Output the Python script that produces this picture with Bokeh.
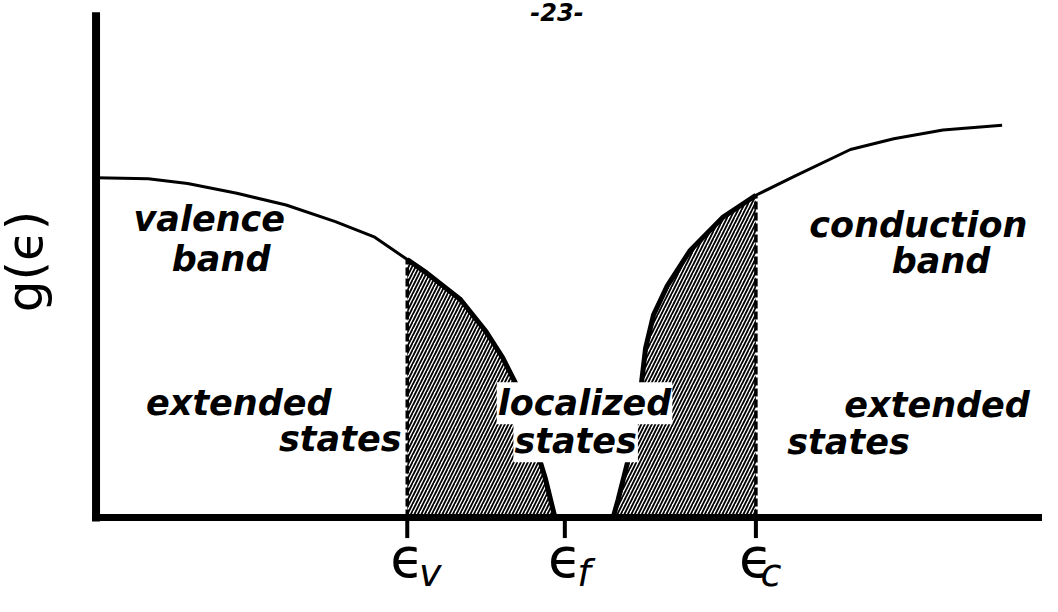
import numpy as np
from bokeh.plotting import figure
from bokeh.models import Range1d, ColumnDataSource
from bokeh.core.properties import value
from bokeh.embed import file_html
from bokeh.resources import INLINE

# ---- data (energy and g(e) in arbitrary units) ----
valence_e = [0.00, 0.53, 0.93, 1.43, 1.93, 2.43, 2.83, 3.16, 3.36, 3.70, 3.96, 4.13, 4.28, 4.46, 4.56, 4.66]
valence_g = [3.49, 3.48, 3.43, 3.33, 3.21, 3.04, 2.88, 2.65, 2.51, 2.24, 1.91, 1.64, 1.34, 0.74, 0.41, 0.00]
conduction_e = [5.25, 5.30, 5.40, 5.53, 5.58, 5.66, 5.80, 6.03, 6.36, 6.70, 7.10, 7.66, 8.10, 8.60, 9.20]
conduction_g = [0.00, 0.18, 0.58, 1.31, 1.74, 2.08, 2.38, 2.74, 3.08, 3.31, 3.51, 3.78, 3.89, 3.98, 4.03]

e_v = 3.16
e_f = 4.76
e_c = 6.70
tick_positions = [e_v, e_f, e_c]
tick_subscripts = ["v", "f", "c"]

label_texts = ["valence", "band", "conduction", "band",
               "extended", "states", "localized", "states", "extended", "states"]
label_x = [1.15, 1.27, 8.35, 8.58, 1.45, 2.48, 4.96, 4.87, 8.54, 7.64]
label_y = [2.92, 2.51, 2.86, 2.49, 1.03, 0.66, 1.03, 0.64, 1.01, 0.63]
label_boxed = [0, 0, 0, 0, 0, 1, 1, 1, 0, 1]

FONT = "DejaVu Sans"
SHIFT = 0.4  # svg text sits ~0.4em low with alphabetic baseline; lift it

p = figure(width=1042, height=596, output_backend="svg", toolbar_location=None,
           x_axis_location=None, y_axis_location=None,
           x_range=Range1d(-0.97, 9.61), y_range=Range1d(-0.81, 5.31),
           min_border=0, outline_line_color=None, background_fill_color="white")
p.grid.visible = False

ve = np.array(valence_e); vg = np.array(valence_g)
ce = np.array(conduction_e); cg = np.array(conduction_g)

# hatched regions (localized states)
mv = ve >= e_v
hx1 = [e_v] + list(ve[mv])
hy1 = [0.0] + list(vg[mv])
mc = ce <= e_c
hx2 = list(ce[mc]) + [e_c]
hy2 = list(cg[mc]) + [0.0]
for hx, hy in ((hx1, hy1), (hx2, hy2)):
    p.patch(hx, hy, fill_color=None, line_color=None,
            hatch_pattern="/", hatch_color="black", hatch_scale=7, hatch_weight=1.8)

# dashed mobility edges
p.segment(x0=[e_v, e_c], y0=[0, 0], x1=[e_v, e_c],
          y1=[vg[ve == e_v][0], cg[ce == e_c][0]],
          line_color="black", line_width=3.5, line_dash="8 3")

# density of states curves
p.line(valence_e, valence_g, line_color="black", line_width=3, line_join="round")
p.line(conduction_e, conduction_g, line_color="black", line_width=3, line_join="round")
p.line(hx1[1:], hy1[1:], line_color="black", line_width=5, line_join="round")
p.line(hx2[:-1], hy2[:-1], line_color="black", line_width=5, line_join="round")

# axis lines and ticks
p.segment(x0=[0], y0=[-0.04], x1=[0], y1=[5.19], line_color="black", line_width=8)
p.segment(x0=[-0.04], y0=[0], x1=[9.8], y1=[0], line_color="black", line_width=7)
p.segment(x0=tick_positions, y0=[0] * 3, x1=tick_positions, y1=[-0.21] * 3,
          line_color="black", line_width=4)

# tick labels: epsilon with subscripts
EPS = 55
SUB = 38
p.text(x=tick_positions, y=[-0.64] * 3, text=["\u03f5"] * 3, text_font=value(FONT),
       text_font_size=f"{EPS}px", text_align="center", text_baseline="alphabetic",
       text_color="black", y_offset=-SHIFT * EPS)
p.text(x=tick_positions, y=[-0.72] * 3, text=tick_subscripts, text_font=value(FONT),
       text_font_size=f"{SUB}px", text_font_style="italic", text_align="center",
       text_baseline="alphabetic", text_color="black",
       x_offset=[23, 19, 15], y_offset=-SHIFT * SUB)

# region labels
LBL = 35
src = ColumnDataSource(dict(x=label_x, y=label_y, t=label_texts,
                            a=[float(b) for b in label_boxed]))
p.text(x="x", y="y", text="t", source=src, text_font=value(FONT),
       text_font_size=f"{LBL}px", text_font_style="bold italic", text_align="center",
       text_baseline="alphabetic", text_color="black", y_offset=-SHIFT * LBL,
       background_fill_color="white", background_fill_alpha="a", padding=1)

# y-axis label
YL = 50
p.text(x=[-0.68], y=[2.63], text=["g(\u03f5)"], text_font=value(FONT),
       text_font_size=f"{YL}px", text_align="center", text_baseline="middle",
       angle=np.pi / 2, text_color="black", x_offset=-4)

# page number
PN = 24
p.text(x=[4.68], y=[5.09], text=["-23-"], text_font=value(FONT), text_font_size=f"{PN}px",
       text_font_style="bold italic", text_align="center", text_baseline="alphabetic",
       text_color="black", y_offset=-SHIFT * PN)

open("out.html", "w").write(file_html(p, INLINE))
